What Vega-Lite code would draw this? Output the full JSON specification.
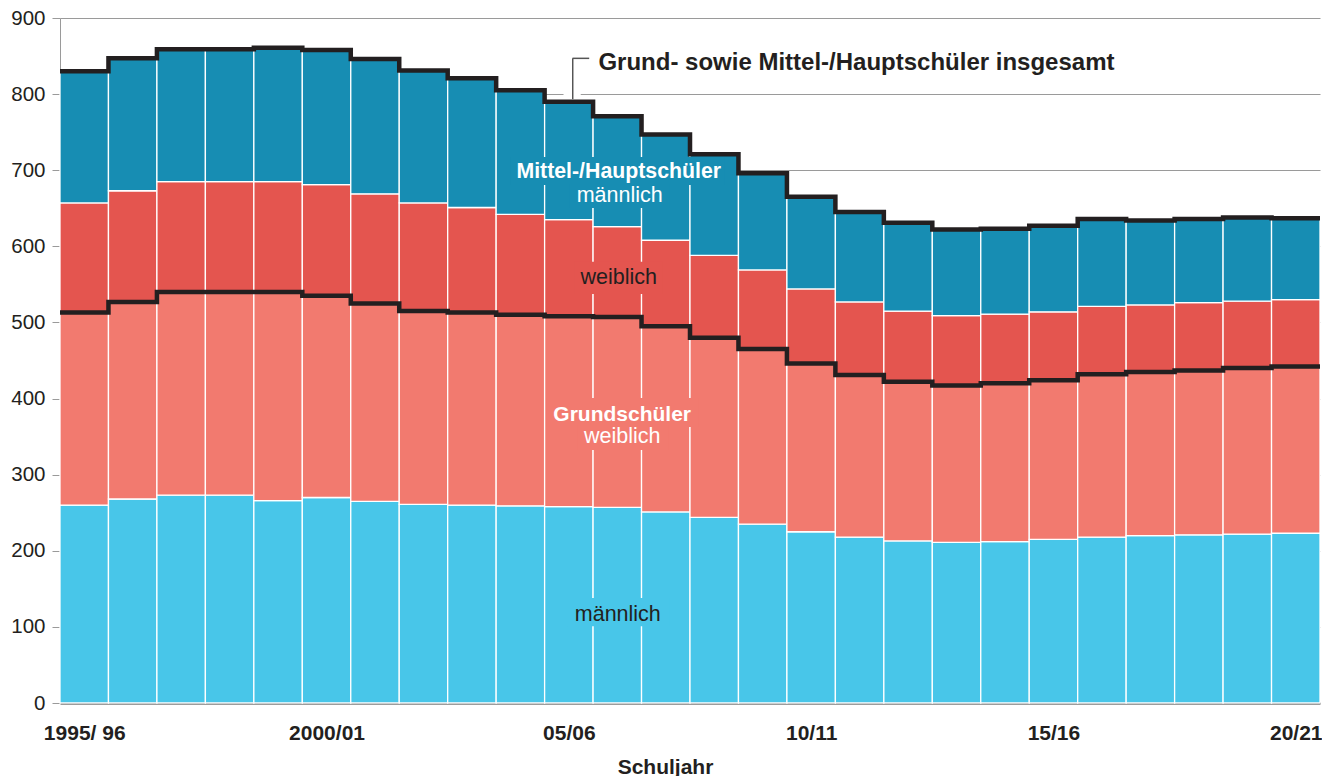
{
  "$schema": "https://vega.github.io/schema/vega-lite/v6.json",
  "width": 1260,
  "height": 685,
  "autosize": "none",
  "padding": {"left": 60, "top": 18, "right": 2, "bottom": 73},
  "background": "white",
  "config": {
    "view": {"stroke": null},
    "font": "Liberation Sans",
    "text": {"font": "Liberation Sans"},
    "axisX": {
      "ticks": false, "tickSize": 0, "grid": false,
      "domainColor": "#3a3a3a", "domainWidth": 2,
      "labelFont": "Liberation Sans", "labelFontSize": 21, "labelFontWeight": "bold", "labelColor": "#231f20",
      "labelPadding": 19, "labelFlush": false, "labelOverlap": false,
      "titleFont": "Liberation Sans", "titleFontSize": 21, "titleFontWeight": "bold", "titleColor": "#231f20",
      "titleAlign": "center", "titleBaseline": "alphabetic", "titleX": 605, "titleY": 70
    },
    "axisY": {
      "grid": true, "gridColor": "#9a9a9a", "gridWidth": 1,
      "domainColor": "#9a9a9a", "domainWidth": 1,
      "tickColor": "#9a9a9a", "tickSize": 8, "tickWidth": 1,
      "labelFont": "Liberation Sans", "labelFontSize": 20.5, "labelColor": "#231f20", "labelPadding": 7
    }
  },
  "data": {"values": [
    {"jahr": "1995/96", "beginn": 1995, "ende": 1996, "grund_m": 260, "grund_w": 253, "mittel_w": 144, "mittel_m": 173},
    {"jahr": "1996/97", "beginn": 1996, "ende": 1997, "grund_m": 268, "grund_w": 259, "mittel_w": 146, "mittel_m": 174},
    {"jahr": "1997/98", "beginn": 1997, "ende": 1998, "grund_m": 273, "grund_w": 267, "mittel_w": 145, "mittel_m": 174},
    {"jahr": "1998/99", "beginn": 1998, "ende": 1999, "grund_m": 273, "grund_w": 267, "mittel_w": 145, "mittel_m": 174},
    {"jahr": "1999/00", "beginn": 1999, "ende": 2000, "grund_m": 266, "grund_w": 274, "mittel_w": 145, "mittel_m": 176},
    {"jahr": "2000/01", "beginn": 2000, "ende": 2001, "grund_m": 270, "grund_w": 265, "mittel_w": 146, "mittel_m": 177},
    {"jahr": "2001/02", "beginn": 2001, "ende": 2002, "grund_m": 265, "grund_w": 260, "mittel_w": 144, "mittel_m": 177},
    {"jahr": "2002/03", "beginn": 2002, "ende": 2003, "grund_m": 261, "grund_w": 254, "mittel_w": 142, "mittel_m": 174},
    {"jahr": "2003/04", "beginn": 2003, "ende": 2004, "grund_m": 260, "grund_w": 253, "mittel_w": 138, "mittel_m": 170},
    {"jahr": "2004/05", "beginn": 2004, "ende": 2005, "grund_m": 259, "grund_w": 251, "mittel_w": 132, "mittel_m": 163},
    {"jahr": "2005/06", "beginn": 2005, "ende": 2006, "grund_m": 258, "grund_w": 250, "mittel_w": 127, "mittel_m": 155},
    {"jahr": "2006/07", "beginn": 2006, "ende": 2007, "grund_m": 257, "grund_w": 250, "mittel_w": 119, "mittel_m": 145},
    {"jahr": "2007/08", "beginn": 2007, "ende": 2008, "grund_m": 251, "grund_w": 244, "mittel_w": 113, "mittel_m": 139},
    {"jahr": "2008/09", "beginn": 2008, "ende": 2009, "grund_m": 244, "grund_w": 236, "mittel_w": 108, "mittel_m": 133},
    {"jahr": "2009/10", "beginn": 2009, "ende": 2010, "grund_m": 235, "grund_w": 230, "mittel_w": 104, "mittel_m": 127},
    {"jahr": "2010/11", "beginn": 2010, "ende": 2011, "grund_m": 225, "grund_w": 221, "mittel_w": 98, "mittel_m": 121},
    {"jahr": "2011/12", "beginn": 2011, "ende": 2012, "grund_m": 218, "grund_w": 213, "mittel_w": 96, "mittel_m": 118},
    {"jahr": "2012/13", "beginn": 2012, "ende": 2013, "grund_m": 213, "grund_w": 209, "mittel_w": 93, "mittel_m": 116},
    {"jahr": "2013/14", "beginn": 2013, "ende": 2014, "grund_m": 211, "grund_w": 206, "mittel_w": 92, "mittel_m": 113},
    {"jahr": "2014/15", "beginn": 2014, "ende": 2015, "grund_m": 212, "grund_w": 208, "mittel_w": 91, "mittel_m": 112},
    {"jahr": "2015/16", "beginn": 2015, "ende": 2016, "grund_m": 215, "grund_w": 209, "mittel_w": 90, "mittel_m": 113},
    {"jahr": "2016/17", "beginn": 2016, "ende": 2017, "grund_m": 218, "grund_w": 214, "mittel_w": 89, "mittel_m": 115},
    {"jahr": "2017/18", "beginn": 2017, "ende": 2018, "grund_m": 220, "grund_w": 215, "mittel_w": 88, "mittel_m": 111},
    {"jahr": "2018/19", "beginn": 2018, "ende": 2019, "grund_m": 221, "grund_w": 216, "mittel_w": 89, "mittel_m": 110},
    {"jahr": "2019/20", "beginn": 2019, "ende": 2020, "grund_m": 222, "grund_w": 218, "mittel_w": 88, "mittel_m": 110},
    {"jahr": "2020/21", "beginn": 2020, "ende": 2021, "grund_m": 223, "grund_w": 219, "mittel_w": 88, "mittel_m": 107}
  ]},
  "layer": [
    {
      "transform": [
        {"fold": ["grund_m", "grund_w", "mittel_w", "mittel_m"], "as": ["gruppe", "wert"]},
        {"stack": "wert", "groupby": ["beginn"], "as": ["unten", "oben"]}
      ],
      "mark": {"type": "bar", "stroke": "white", "strokeWidth": 1.3},
      "encoding": {
        "x": {"field": "beginn", "type": "quantitative",
          "scale": {"domain": [1995, 2021], "nice": false, "zero": false},
          "axis": {
            "title": "Schuljahr",
            "values": [1995.5, 2000.5, 2005.5, 2010.5, 2015.5, 2020.5],
            "labelExpr": "{'1995.5':'1995/ 96','2000.5':'2000/01','2005.5':'05/06','2010.5':'10/11','2015.5':'15/16','2020.5':'20/21'}[datum.value]"
          }
        },
        "x2": {"field": "ende"},
        "y": {"field": "unten", "type": "quantitative",
          "scale": {"domain": [0, 900], "nice": false},
          "axis": {"title": null, "values": [0, 100, 200, 300, 400, 500, 600, 700, 800, 900]}
        },
        "y2": {"field": "oben"},
        "color": {"field": "gruppe", "type": "nominal",
          "scale": {"domain": ["grund_m", "grund_w", "mittel_w", "mittel_m"], "range": ["#48c6e9", "#f27a6f", "#e4554f", "#178db3"]},
          "legend": null}
      }
    },
    {
      "data": {"values": [{}]},
      "mark": {"type": "rect", "color": "#178db3"},
      "encoding": {
        "x": {"datum": 2004.29, "type": "quantitative"},
        "x2": {"datum": 2008.72},
        "y": {"datum": 680.7, "type": "quantitative"},
        "y2": {"datum": 717.5}
      }
    },
    {
      "data": {"values": [{}]},
      "mark": {"type": "rect", "color": "#178db3"},
      "encoding": {
        "x": {"datum": 2005.52, "type": "quantitative"},
        "x2": {"datum": 2007.57},
        "y": {"datum": 650.5, "type": "quantitative"},
        "y2": {"datum": 682}
      }
    },
    {
      "data": {"values": [{}]},
      "mark": {"type": "rect", "color": "#e4554f"},
      "encoding": {
        "x": {"datum": 2005.61, "type": "quantitative"},
        "x2": {"datum": 2007.44},
        "y": {"datum": 537.5, "type": "quantitative"},
        "y2": {"datum": 579.8}
      }
    },
    {
      "data": {"values": [{}]},
      "mark": {"type": "rect", "color": "#f27a6f"},
      "encoding": {
        "x": {"datum": 2005.03, "type": "quantitative"},
        "x2": {"datum": 2008.17},
        "y": {"datum": 362.7, "type": "quantitative"},
        "y2": {"datum": 400.8}
      }
    },
    {
      "data": {"values": [{}]},
      "mark": {"type": "rect", "color": "#f27a6f"},
      "encoding": {
        "x": {"datum": 2005.67, "type": "quantitative"},
        "x2": {"datum": 2007.55},
        "y": {"datum": 332.5, "type": "quantitative"},
        "y2": {"datum": 365.3}
      }
    },
    {
      "data": {"values": [{}]},
      "mark": {"type": "rect", "color": "#48c6e9"},
      "encoding": {
        "x": {"datum": 2005.48, "type": "quantitative"},
        "x2": {"datum": 2007.57},
        "y": {"datum": 101, "type": "quantitative"},
        "y2": {"datum": 138}
      }
    },
    {
      "transform": [
        {"fold": ["grund_m", "grund_w", "mittel_w", "mittel_m"], "as": ["gruppe", "wert"]},
        {"stack": "wert", "groupby": ["beginn"], "as": ["unten", "oben"]},
        {"filter": {"field": "gruppe", "oneOf": ["grund_w", "mittel_m"]}},
        {"fold": ["beginn", "ende"], "as": ["seite", "xpos"]}
      ],
      "mark": {"type": "line", "color": "#231f20", "strokeWidth": 4.5, "strokeJoin": "miter", "strokeCap": "butt"},
      "encoding": {
        "x": {"field": "xpos", "type": "quantitative",
          "axis": {
            "title": "Schuljahr",
            "values": [1995.5, 2000.5, 2005.5, 2010.5, 2015.5, 2020.5],
            "labelExpr": "{'1995.5':'1995/ 96','2000.5':'2000/01','2005.5':'05/06','2010.5':'10/11','2015.5':'15/16','2020.5':'20/21'}[datum.value]"
          }
        },
        "y": {"field": "oben", "type": "quantitative",
          "axis": {"title": null, "values": [0, 100, 200, 300, 400, 500, 600, 700, 800, 900]}
        },
        "detail": {"field": "gruppe"},
        "order": [{"field": "xpos", "sort": "ascending"}, {"field": "seite", "sort": "descending"}]
      }
    },
    {
      "data": {"values": [{}]},
      "mark": {"type": "rule", "color": "white", "strokeWidth": 3},
      "encoding": {
        "x": {"datum": 2005.39, "type": "quantitative"},
        "x2": {"datum": 2005.745},
        "y": {"datum": 800, "type": "quantitative"}
      }
    },
    {
      "data": {"values": [{}]},
      "mark": {"type": "rule", "color": "#555555", "strokeWidth": 1.5},
      "encoding": {
        "x": {"datum": 2005.58, "type": "quantitative"},
        "y": {"datum": 793.3, "type": "quantitative"},
        "y2": {"datum": 847}
      }
    },
    {
      "data": {"values": [{}]},
      "mark": {"type": "rule", "color": "#555555", "strokeWidth": 1.5},
      "encoding": {
        "x": {"datum": 2005.575, "type": "quantitative"},
        "x2": {"datum": 2005.92},
        "y": {"datum": 847, "type": "quantitative"}
      }
    },
    {
      "data": {"values": [{}]},
      "mark": {"type": "text", "text": "Grund- sowie Mittel-/Hauptschüler insgesamt", "align": "left", "baseline": "alphabetic", "fontSize": 24, "fontWeight": "bold", "color": "#231f20"},
      "encoding": {
        "x": {"datum": 2006.11, "type": "quantitative"},
        "y": {"datum": 831.8, "type": "quantitative"}
      }
    },
    {
      "data": {"values": [{}]},
      "mark": {"type": "text", "text": "Mittel-/Hauptschüler", "align": "center", "baseline": "alphabetic", "fontSize": 21.3, "fontWeight": "bold", "color": "white"},
      "encoding": {
        "x": {"datum": 2006.53, "type": "quantitative"},
        "y": {"datum": 689.5, "type": "quantitative"}
      }
    },
    {
      "data": {"values": [{}]},
      "mark": {"type": "text", "text": "männlich", "align": "center", "baseline": "alphabetic", "fontSize": 21.5, "color": "white"},
      "encoding": {
        "x": {"datum": 2006.55, "type": "quantitative"},
        "y": {"datum": 658, "type": "quantitative"}
      }
    },
    {
      "data": {"values": [{}]},
      "mark": {"type": "text", "text": "weiblich", "align": "center", "baseline": "alphabetic", "fontSize": 21.5, "color": "#231f20"},
      "encoding": {
        "x": {"datum": 2006.53, "type": "quantitative"},
        "y": {"datum": 550.2, "type": "quantitative"}
      }
    },
    {
      "data": {"values": [{}]},
      "mark": {"type": "text", "text": "Grundschüler", "align": "center", "baseline": "alphabetic", "fontSize": 21, "fontWeight": "bold", "color": "white"},
      "encoding": {
        "x": {"datum": 2006.6, "type": "quantitative"},
        "y": {"datum": 371, "type": "quantitative"}
      }
    },
    {
      "data": {"values": [{}]},
      "mark": {"type": "text", "text": "weiblich", "align": "center", "baseline": "alphabetic", "fontSize": 21.5, "color": "white"},
      "encoding": {
        "x": {"datum": 2006.6, "type": "quantitative"},
        "y": {"datum": 341.3, "type": "quantitative"}
      }
    },
    {
      "data": {"values": [{}]},
      "mark": {"type": "text", "text": "männlich", "align": "center", "baseline": "alphabetic", "fontSize": 21.5, "color": "#231f20"},
      "encoding": {
        "x": {"datum": 2006.51, "type": "quantitative"},
        "y": {"datum": 108, "type": "quantitative"}
      }
    }
  ]
}
